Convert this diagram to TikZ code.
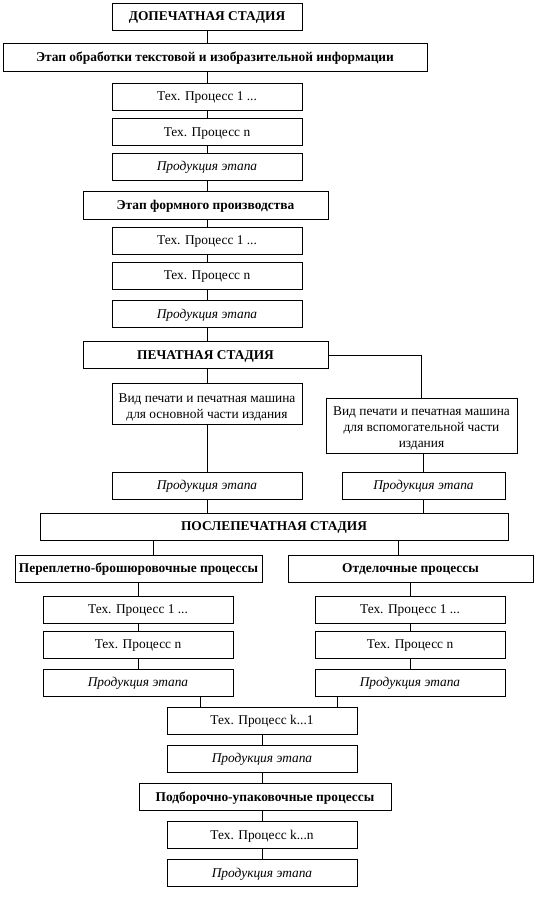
\documentclass[tikz,border=0pt]{standalone}
\usepackage{fontspec}
\setmainfont{Liberation Serif}
\usetikzlibrary{calc}
\tikzset{
	base/.style={draw, minimum height=27, inner sep=0pt, font=\fontsize{13.4}{16}\selectfont},
	blk/.style={base, minimum width=#1, text height=8.9, text depth=0},
	blk/.default=190,
	bblk/.style={blk=#1, font=\fontsize{13.4}{16}\selectfont\bfseries},
	bblk/.default=190,
	iblk/.style={blk=#1, font=\fontsize{13.4}{16}\selectfont\itshape},
	iblk/.default=190
}

\begin{document}
\begin{tikzpicture}[x=1pt, y=-1pt, line width=0.8pt]
			%%%%% START %%%%%
			\useasboundingbox (0,0) rectangle (556,924);
			
			% допечатная стадия
			\node[bblk] (dop) at (207,16.5) {ДОПЕЧАТНАЯ СТАДИЯ};
			\node[bblk=424, minimum height=28] (obrab) at (215,57.5) {Этап обработки текстовой и изобразительной информации};
			\node[blk] (obrabA) at (207,96.5) {Тех. Процесс 1 ...};
			\node[blk] (obrabN) at (207,132) {Тех. Процесс n};
			\node[iblk] (obrabP) at (207,166.5) {Продукция этапа};
			
			\node[bblk=245, minimum height=28] (form) at (205.5,205) {Этап формного производства};
			\node[blk] (formA) at (207,240.5) {Тех. Процесс 1 ...};
			\node[blk] (formN) at (207,275.5) {Тех. Процесс n};
			\node[iblk] (formP) at (207,314) {Продукция этапа};
			
			% печатная стадия
			\node[bblk=245] (pech) at (205.5,355) {ПЕЧАТНАЯ СТАДИЯ};
			\node[base, minimum width=190, minimum height=41, text height=23, text depth=9] (vidA) at (207,403.5) {\begin{tabular}{@{}c@{}}Вид печати и печатная машина\\для основной части издания\end{tabular}};
			\node[base, minimum width=191, minimum height=55, text height=30, text depth=18] (vidB) at (421.5,425.5) {\begin{tabular}{@{}c@{}}Вид печати и печатная машина\\для вспомогательной части\\издания\end{tabular}};
			\node[iblk] (vidAP) at (207,485.5) {Продукция этапа};
			\node[iblk=163] (vidBP) at (423.5,485.5) {Продукция этапа};
			
			% послепечатная стадия
			\node[bblk=468] (posle) at (274,526.5) {ПОСЛЕПЕЧАТНАЯ СТАДИЯ};
			\node[bblk=247] (perepl) at (138.5,568.5) {Переплетно-брошюровочные процессы};
			\node[bblk=245] (otdel) at (410.5,568.5) {Отделочные процессы};
			\node[blk] (lA) at (138,609.5) {Тех. Процесс 1 ...};
			\node[blk] (lN) at (138,644.5) {Тех. Процесс n};
			\node[iblk] (lP) at (138,682.5) {Продукция этапа};
			\node[blk] (rA) at (410,609.5) {Тех. Процесс 1 ...};
			\node[blk] (rN) at (410,644.5) {Тех. Процесс n};
			\node[iblk] (rP) at (410,682.5) {Продукция этапа};
			
			\node[blk] (kA) at (262,720.5) {Тех. Процесс k...1};
			\node[iblk] (kAP) at (262,758.5) {Продукция этапа};
			\node[bblk=252] (podbor) at (265,797) {Подборочно-упаковочные процессы};
			\node[blk] (kN) at (262,835) {Тех. Процесс k...n};
			\node[iblk] (kNP) at (262,873) {Продукция этапа};
			
			\coordinate (splitL) at (153,0);
			\coordinate (splitR) at (398,0);
			\coordinate (mergeL) at (200,0);
			\coordinate (mergeR) at (337,0);
			
			% связи
			\draw (dop.south) -- (dop.south |- obrab.north);
			\draw (obrabA.north |- obrab.south) -- (obrabA.north);
			\draw (obrabP.south) -- (obrabP.south |- form.north);
			\draw (formA.north |- form.south) -- (formA.north);
			\draw (formP.south) -- (formP.south |- pech.north);
			\draw (vidA.north |- pech.south) -- (vidA.north);
			\draw (pech.east) -| (vidB.north);
			\draw (vidBP.north |- vidB.south) -- (vidBP.north);
			\draw (vidAP.south) -- (vidAP.south |- posle.north);
			\draw (vidBP.south) -- (vidBP.south |- posle.north);
			\draw (splitL |- posle.south) -- (splitL |- perepl.north);
			\draw (splitR |- posle.south) -- (splitR |- otdel.north);
			\draw (lA.north |- perepl.south) -- (lA.north);
			\draw (rA.north |- otdel.south) -- (rA.north);
			\draw (mergeL |- lP.south) -- (mergeL |- kA.north);
			\draw (mergeR |- rP.south) -- (mergeR |- kA.north);
			\draw (kAP.south) -- (kAP.south |- podbor.north);
			\draw (kN.north |- podbor.south) -- (kN.north);
			\foreach \a/\b in {obrabA/obrabN, obrabN/obrabP, formA/formN, formN/formP, vidA/vidAP, lA/lN, lN/lP, rA/rN, rN/rP, kA/kAP, kN/kNP}
				\draw (\a) -- (\b);
			
			%%%%% END %%%%%
\end{tikzpicture}
\end{document}
